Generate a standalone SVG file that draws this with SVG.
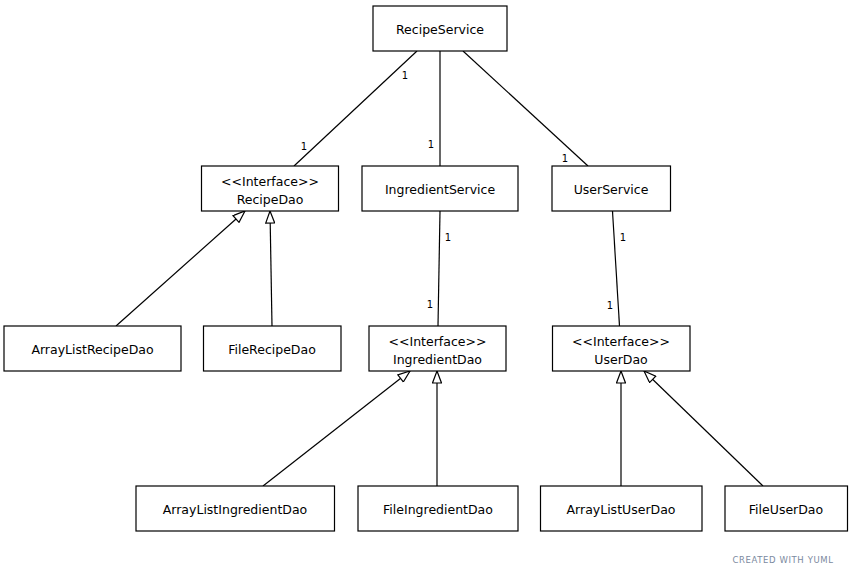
<svg xmlns="http://www.w3.org/2000/svg" width="852" height="575" viewBox="0 0 852 575">
  <style>
    .box { fill: #fff; stroke: #000; stroke-width: 1.2; }
    .lbl { font-family: "DejaVu Sans", Verdana, sans-serif; font-size: 12.5px; fill: #000; text-anchor: middle; }
    .mult { font-family: "DejaVu Sans", Verdana, sans-serif; font-size: 10px; fill: #000; text-anchor: middle; }
    .edge { stroke: #000; stroke-width: 1.2; fill: none; }
    .gen { marker-end: url(#tri); }
    .credit { font-family: "DejaVu Sans", Verdana, sans-serif; font-size: 8.5px; fill: #7b8aa0; text-anchor: middle; letter-spacing: 0.6px; }
  </style>
  <defs>
    <marker id="tri" viewBox="0 0 14 10" refX="13" refY="5" markerWidth="14" markerHeight="10" markerUnits="userSpaceOnUse" orient="auto">
      <path d="M1,0.5 L13,5 L1,9.5 Z" fill="#fff" stroke="#000" stroke-width="1.2"/>
    </marker>
  </defs>
  <rect width="852" height="575" fill="#fff"/>

  <g id="connectors">
    <!-- associations -->
    <line class="edge" x1="417" y1="51" x2="294" y2="166"/>
    <line class="edge" x1="440" y1="51" x2="440" y2="166"/>
    <line class="edge" x1="463" y1="51" x2="588" y2="166"/>
    <line class="edge" x1="440" y1="211" x2="438" y2="326"/>
    <line class="edge" x1="612.5" y1="211" x2="619.5" y2="326"/>
    <!-- realizations -->
    <line class="edge gen" x1="116" y1="326" x2="245" y2="211"/>
    <line class="edge gen" x1="272" y1="326" x2="270" y2="211"/>
    <line class="edge gen" x1="263" y1="486" x2="410" y2="371"/>
    <line class="edge gen" x1="437" y1="486" x2="437" y2="371"/>
    <line class="edge gen" x1="621" y1="486" x2="621" y2="371"/>
    <line class="edge gen" x1="763" y1="486" x2="644" y2="371"/>
    <!-- multiplicities -->
    <text class="mult" x="405" y="79">1</text>
    <text class="mult" x="304" y="150">1</text>
    <text class="mult" x="431" y="148">1</text>
    <text class="mult" x="565" y="162">1</text>
    <text class="mult" x="448" y="241">1</text>
    <text class="mult" x="430" y="308">1</text>
    <text class="mult" x="623" y="241">1</text>
    <text class="mult" x="610" y="309">1</text>
  </g>

  <g id="RecipeService">
    <rect class="box" x="373" y="6" width="134" height="45"/>
    <text class="lbl" x="440" y="33.5">RecipeService</text>
  </g>
  <g id="RecipeDao">
    <rect class="box" x="201.5" y="166" width="137" height="45"/>
    <text class="lbl" x="270" y="185.5">&lt;&lt;Interface&gt;&gt;</text>
    <text class="lbl" x="270" y="203.5">RecipeDao</text>
  </g>
  <g id="IngredientService">
    <rect class="box" x="362" y="166" width="156" height="45"/>
    <text class="lbl" x="440" y="193.5">IngredientService</text>
  </g>
  <g id="UserService">
    <rect class="box" x="552" y="166" width="118.5" height="45"/>
    <text class="lbl" x="611" y="193.5">UserService</text>
  </g>
  <g id="ArrayListRecipeDao">
    <rect class="box" x="4" y="326" width="177" height="45"/>
    <text class="lbl" x="92.5" y="353.5">ArrayListRecipeDao</text>
  </g>
  <g id="FileRecipeDao">
    <rect class="box" x="203.5" y="326" width="137.5" height="45"/>
    <text class="lbl" x="272" y="353.5">FileRecipeDao</text>
  </g>
  <g id="IngredientDao">
    <rect class="box" x="369" y="326" width="137" height="45"/>
    <text class="lbl" x="437.5" y="345.5">&lt;&lt;Interface&gt;&gt;</text>
    <text class="lbl" x="437.5" y="363.5">IngredientDao</text>
  </g>
  <g id="UserDao">
    <rect class="box" x="552.5" y="326" width="137.5" height="45"/>
    <text class="lbl" x="621" y="345.5">&lt;&lt;Interface&gt;&gt;</text>
    <text class="lbl" x="621" y="363.5">UserDao</text>
  </g>
  <g id="ArrayListIngredientDao">
    <rect class="box" x="136" y="486" width="198.5" height="45"/>
    <text class="lbl" x="235" y="513.5">ArrayListIngredientDao</text>
  </g>
  <g id="FileIngredientDao">
    <rect class="box" x="358" y="486" width="160" height="45"/>
    <text class="lbl" x="438" y="513.5">FileIngredientDao</text>
  </g>
  <g id="ArrayListUserDao">
    <rect class="box" x="540.5" y="486" width="161.5" height="45"/>
    <text class="lbl" x="621" y="513.5">ArrayListUserDao</text>
  </g>
  <g id="FileUserDao">
    <rect class="box" x="725" y="486" width="122.5" height="45"/>
    <text class="lbl" x="786" y="513.5">FileUserDao</text>
  </g>

  <text class="credit" x="783" y="563">CREATED WITH YUML</text>
</svg>
